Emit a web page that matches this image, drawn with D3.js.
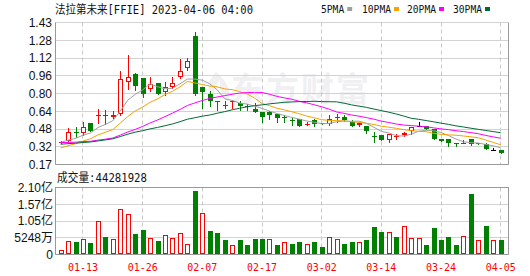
<!DOCTYPE html>
<html><head><meta charset="utf-8">
<script src="https://cdn.jsdelivr.net/npm/d3@7/dist/d3.min.js"></script>
<style>body{margin:0;background:#fff}svg{display:block}</style>
</head><body><svg id="c" width="530" height="276"></svg>
<script>
// ---------- data ----------
const dates = ["01-10","01-11","01-12","01-13","01-17","01-18","01-19","01-20","01-23","01-24","01-25","01-26","01-27","01-30","01-31",
"02-01","02-02","02-03","02-06","02-07","02-08","02-09","02-10","02-13","02-14","02-15","02-16","02-17","02-21","02-22","02-23","02-24","02-27","02-28",
"03-01","03-02","03-03","03-06","03-07","03-08","03-09","03-10","03-13","03-14","03-15","03-16","03-17","03-20","03-21","03-22","03-23","03-24","03-27","03-28","03-29","03-30","03-31",
"04-03","04-04","04-05"];
const open  = [0.365,0.38,0.46,0.45,0.54,0.60,0.605,0.595,0.62,0.90,0.97,0.94,0.84,0.89,0.81,0.86,0.945,1.03,1.31,0.855,0.80,0.735,0.69,0.725,0.715,0.69,0.665,0.635,0.635,0.615,0.595,0.565,0.57,0.52,0.565,0.535,0.525,0.585,0.595,0.55,0.52,0.515,0.42,0.43,0.39,0.415,0.43,0.465,0.513,0.515,0.485,0.395,0.40,0.365,0.36,0.395,0.36,0.355,0.30,0.30];
const close = [0.37,0.46,0.455,0.50,0.47,0.61,0.60,0.61,0.93,0.95,0.87,0.80,0.885,0.80,0.86,0.89,1.00,1.09,0.80,0.81,0.73,0.73,0.695,0.73,0.69,0.685,0.64,0.595,0.61,0.585,0.59,0.56,0.515,0.53,0.53,0.525,0.57,0.59,0.565,0.515,0.535,0.47,0.415,0.385,0.44,0.42,0.45,0.50,0.513,0.485,0.395,0.375,0.365,0.36,0.365,0.355,0.355,0.305,0.30,0.275];
const high  = [0.375,0.49,0.50,0.55,0.54,0.66,0.65,0.645,1.00,1.145,0.98,0.94,0.95,0.89,0.905,0.95,1.11,1.115,1.345,0.86,0.82,0.735,0.735,0.74,0.73,0.705,0.72,0.635,0.645,0.62,0.605,0.595,0.57,0.545,0.57,0.535,0.605,0.617,0.605,0.565,0.545,0.515,0.46,0.43,0.44,0.44,0.46,0.505,0.548,0.515,0.485,0.395,0.40,0.365,0.39,0.395,0.36,0.365,0.32,0.30];
const low   = [0.36,0.37,0.41,0.43,0.47,0.54,0.53,0.58,0.605,0.84,0.83,0.765,0.82,0.80,0.785,0.85,0.935,1.01,0.785,0.67,0.685,0.655,0.67,0.675,0.655,0.655,0.64,0.55,0.575,0.55,0.55,0.52,0.515,0.52,0.51,0.525,0.52,0.551,0.56,0.515,0.51,0.45,0.37,0.385,0.37,0.40,0.42,0.445,0.513,0.485,0.395,0.375,0.335,0.337,0.36,0.345,0.355,0.305,0.30,0.275];
const volume = [13.5e6,41.6e6,38.5e6,47.8e6,35.3e6,104e6,54e6,47.8e6,143.5e6,128e6,63.4e6,77e6,53e6,41.6e6,62.4e6,53e6,68.6e6,34.3e6,200e6,131e6,72.8e6,68.6e6,44.7e6,31.2e6,44.7e6,31.2e6,47.8e6,47.8e6,47.8e6,31.2e6,40.5e6,32.2e6,38.5e6,34.3e6,38.5e6,22.9e6,56e6,47.8e6,32.2e6,38.5e6,38.5e6,45.7e6,85.3e6,69.7e6,69.7e6,54e6,90.4e6,51e6,51e6,29e6,82e6,45.7e6,54e6,29e6,57.2e6,190e6,45.7e6,88.4e6,44.7e6,44281928];
const volumeUp = [1,1,0,1,0,1,0,1,1,1,0,0,1,0,1,1,1,1,0,1,0,0,0,1,0,0,0,0,1,0,1,0,0,1,0,0,1,1,0,0,1,0,0,0,1,0,1,1,1,0,0,0,0,0,1,0,1,0,1,0];
const ma5  = [0.366,0.386,0.402,0.43,0.45,0.498,0.526,0.558,0.644,0.74,0.792,0.832,0.886,0.86,0.842,0.846,0.886,0.928,0.928,0.918,0.886,0.832,0.753,0.739,0.715,0.706,0.688,0.668,0.644,0.623,0.604,0.588,0.572,0.556,0.545,0.532,0.534,0.549,0.556,0.553,0.555,0.535,0.50,0.464,0.449,0.426,0.422,0.439,0.465,0.474,0.469,0.454,0.427,0.396,0.372,0.364,0.36,0.348,0.336,0.318];
const ma10 = [0.317,0.337,0.355,0.378,0.398,0.432,0.456,0.48,0.537,0.595,0.645,0.679,0.722,0.752,0.791,0.819,0.859,0.907,0.894,0.88,0.866,0.859,0.841,0.834,0.817,0.796,0.76,0.711,0.692,0.669,0.655,0.638,0.62,0.60,0.584,0.568,0.561,0.561,0.556,0.549,0.544,0.535,0.525,0.51,0.501,0.491,0.479,0.470,0.464,0.461,0.447,0.438,0.433,0.430,0.423,0.416,0.407,0.387,0.366,0.345];
const ma20 = [0.364,0.366,0.368,0.373,0.376,0.386,0.395,0.405,0.431,0.458,0.481,0.508,0.539,0.565,0.595,0.626,0.658,0.694,0.716,0.738,0.756,0.769,0.781,0.793,0.804,0.808,0.810,0.809,0.793,0.775,0.761,0.749,0.730,0.717,0.700,0.682,0.661,0.636,0.624,0.609,0.599,0.586,0.572,0.555,0.543,0.529,0.520,0.515,0.510,0.505,0.495,0.486,0.479,0.470,0.462,0.453,0.443,0.428,0.415,0.403];
const ma30 = [0.35,0.355,0.359,0.365,0.37,0.379,0.388,0.398,0.418,0.439,0.457,0.470,0.486,0.499,0.514,0.53,0.55,0.572,0.585,0.599,0.609,0.625,0.639,0.655,0.669,0.682,0.692,0.699,0.708,0.715,0.722,0.725,0.728,0.729,0.731,0.728,0.727,0.726,0.714,0.699,0.688,0.677,0.662,0.648,0.634,0.618,0.600,0.580,0.571,0.560,0.549,0.537,0.526,0.513,0.503,0.492,0.482,0.472,0.462,0.452];
const maNames = ["5PMA","10PMA","20PMA","30PMA"];
const priceTicks = [0.17,0.3275,0.485,0.6425,0.80,0.9575,1.115,1.2725,1.43];
const priceTickLabels = ["0.17","0.32","0.48","0.64","0.80","0.96","1.12","1.28","1.43"];
const volTicks = [0,52480000,104960000,157440000,209920000];
const volTickLabels = ["0","5248万","1.05亿","1.57亿","2.10亿"];
const xTickLabels = ["01-13","01-26","02-07","02-17","03-02","03-14","03-24","04-05"];
const titleText = "法拉第未来[FFIE] 2023-04-06 04:00";

// ---------- layout ----------
const L = 55, R = 509, T = 22.5, B = 164.5, VT = 187.5, VB = 254.5;
const C_UP = "#ff0000", C_DN = "#008000", C_GRID = "#d3d3d3", C_AX = "#999";
const maColors = ["#a0a0a0","#f5a300","#ff00ff","#006a35"];
const monoFont = "'DejaVu Sans Mono','Noto Sans CJK SC',monospace";

const svg = d3.select("#c");
const x = d3.scalePoint().domain(dates).range([60.6, 500.7]);
const y = d3.scaleLinear().domain([0.17, 1.43]).range([B, T]);
const yv = d3.scaleLinear().domain([0, 209920000]).range([VB, VT]);
const px = v => Math.floor(v) + 0.5;

// watermark
const wm = svg.append("g").attr("fill", "#f0f0f3");
wm.append("path").attr("d", "M216,72 C206,82 206,96 216,104 C212,94 214,86 220,80 C219,90 222,97 228,102 C232,92 228,82 216,72 Z");
wm.append("text").attr("x", 231).attr("y", 101).attr("font-family", "'Noto Sans CJK SC',sans-serif")
  .attr("font-weight", "bold").attr("font-size", 33).attr("letter-spacing", 2).text("东方财富");

// grid - horizontal
svg.append("g").selectAll("line").data(priceTicks).join("line")
  .attr("x1", L).attr("x2", R).attr("y1", d => px(y(d))).attr("y2", d => px(y(d)))
  .attr("stroke", C_GRID);
svg.append("g").selectAll("line").data(volTicks).join("line")
  .attr("x1", L).attr("x2", R).attr("y1", d => px(yv(d))).attr("y2", d => px(yv(d)))
  .attr("stroke", C_GRID);
// grid - vertical dashed
const vg = svg.append("g").attr("stroke", "#c8c8c8").attr("stroke-dasharray", "4,3");
xTickLabels.forEach(lb => {
  const xx = px(x(lb));
  vg.append("line").attr("x1", xx).attr("x2", xx).attr("y1", T).attr("y2", B);
  vg.append("line").attr("x1", xx).attr("x2", xx).attr("y1", VT).attr("y2", VB);
});
// frames
const fr = svg.append("g").attr("stroke", C_AX).attr("fill", "none");
fr.append("path").attr("d", `M${L+0.5},${px(T)}V${px(B)}H${R-0.5}V${px(T)}`);
fr.append("path").attr("d", `M${L+0.5},${px(VT)}V${px(VB)}H${R-0.5}V${px(VT)}`);
fr.append("line").attr("x1", L).attr("x2", R).attr("y1", px(VT)).attr("y2", px(VT));

// axes labels (y)
const yAxis = d3.axisLeft(y).tickValues(priceTicks).tickFormat((d, i) => priceTickLabels[i]).tickSize(0).tickPadding(3);
const ga = svg.append("g").attr("transform", `translate(${L},0)`).call(yAxis);
ga.select(".domain").remove();
ga.selectAll("text").attr("font-family", "'Liberation Sans',Arial,sans-serif").attr("font-size", 12).attr("fill", "#111");
const vAxis = d3.axisLeft(yv).tickValues(volTicks).tickFormat((d, i) => volTickLabels[i]).tickSize(0).tickPadding(2);
const gv = svg.append("g").attr("transform", `translate(${L},0)`).call(vAxis);
gv.select(".domain").remove();
gv.selectAll("text").attr("font-family", "'Liberation Sans','Noto Sans CJK SC',sans-serif").attr("font-size", 12).attr("fill", "#111");

// x labels
svg.append("g").selectAll("text").data(xTickLabels).join("text")
  .attr("x", d => x(d)).attr("y", 271).attr("text-anchor", "middle")
  .attr("font-family", monoFont).attr("font-size", 11).attr("fill", C_UP)
  .attr("textLength", 30).attr("lengthAdjust", "spacingAndGlyphs").text(d => d);

// candles
const cg = svg.append("g");
dates.forEach((d, i) => {
  const cx = Math.round(x(d));
  const o = open[i], c = close[i];
  const col = c > o ? C_UP : (c < o ? C_DN : "#000");
  const top = Math.round(y(Math.max(o, c))), bot = Math.round(y(Math.min(o, c)));
  const yh = Math.round(y(high[i])), yl = Math.round(y(low[i]));
  const wick = (a, b) => { if (b > a) cg.append("line").attr("x1", cx + 0.5).attr("x2", cx + 0.5).attr("y1", a).attr("y2", b).attr("stroke", col); };
  if (bot - top < 2) {
    wick(yh, yl + 1);
    cg.append("rect").attr("x", cx - 2).attr("y", top).attr("width", 5).attr("height", 1).attr("fill", col);
  } else if (c > o) {
    wick(yh, top); wick(bot, yl + 1);
    cg.append("rect").attr("x", cx - 1.5).attr("y", top + 0.5).attr("width", 4).attr("height", bot - top - 1)
      .attr("fill", "#fff").attr("stroke", col);
  } else {
    wick(yh, yl + 1);
    cg.append("rect").attr("x", cx - 2).attr("y", top).attr("width", 5).attr("height", bot - top).attr("fill", col);
  }
});

// MA lines
[ma5, ma10, ma20, ma30].forEach((arr, k) => {
  svg.append("path").datum(arr).attr("fill", "none").attr("stroke", maColors[k]).attr("stroke-width", 1)
    .attr("d", d3.line().x((v, i) => x(dates[i])).y(v => y(v)));
});

// volume bars
const vb = svg.append("g");
const base = Math.floor(VB);
dates.forEach((d, i) => {
  const cx = Math.round(x(d));
  const top = Math.round(yv(volume[i]));
  if (volumeUp[i]) {
    vb.append("rect").attr("x", cx - 1.5).attr("y", top + 0.5).attr("width", 4).attr("height", Math.max(0, base - top - 1))
      .attr("fill", "#fff").attr("stroke", C_UP);
  } else {
    vb.append("rect").attr("x", cx - 2).attr("y", top).attr("width", 5).attr("height", base - top).attr("fill", C_DN);
  }
});

// title
svg.append("text").attr("x", 55).attr("y", 14).attr("font-family", monoFont).attr("font-size", 12)
  .attr("fill", "#111").attr("textLength", 198).attr("lengthAdjust", "spacingAndGlyphs").text(titleText);
// volume caption
svg.append("text").attr("x", 57).attr("y", 182).attr("font-family", monoFont).attr("font-size", 12)
  .attr("fill", "#111").attr("textLength", 90).attr("lengthAdjust", "spacingAndGlyphs")
  .text("成交量:" + volume[volume.length - 1]);

// legend
const legX = [321, 362, 407, 453];
maNames.forEach((n, k) => {
  const w = n.length * 5.8;
  svg.append("text").attr("x", legX[k]).attr("y", 13).attr("font-family", monoFont).attr("font-size", 11)
    .attr("fill", "#111").attr("textLength", w).attr("lengthAdjust", "spacingAndGlyphs").text(n);
  svg.append("rect").attr("x", legX[k] + w + 3).attr("y", 7).attr("width", 5).attr("height", 4).attr("fill", maColors[k]);
});
</script></body></html>
